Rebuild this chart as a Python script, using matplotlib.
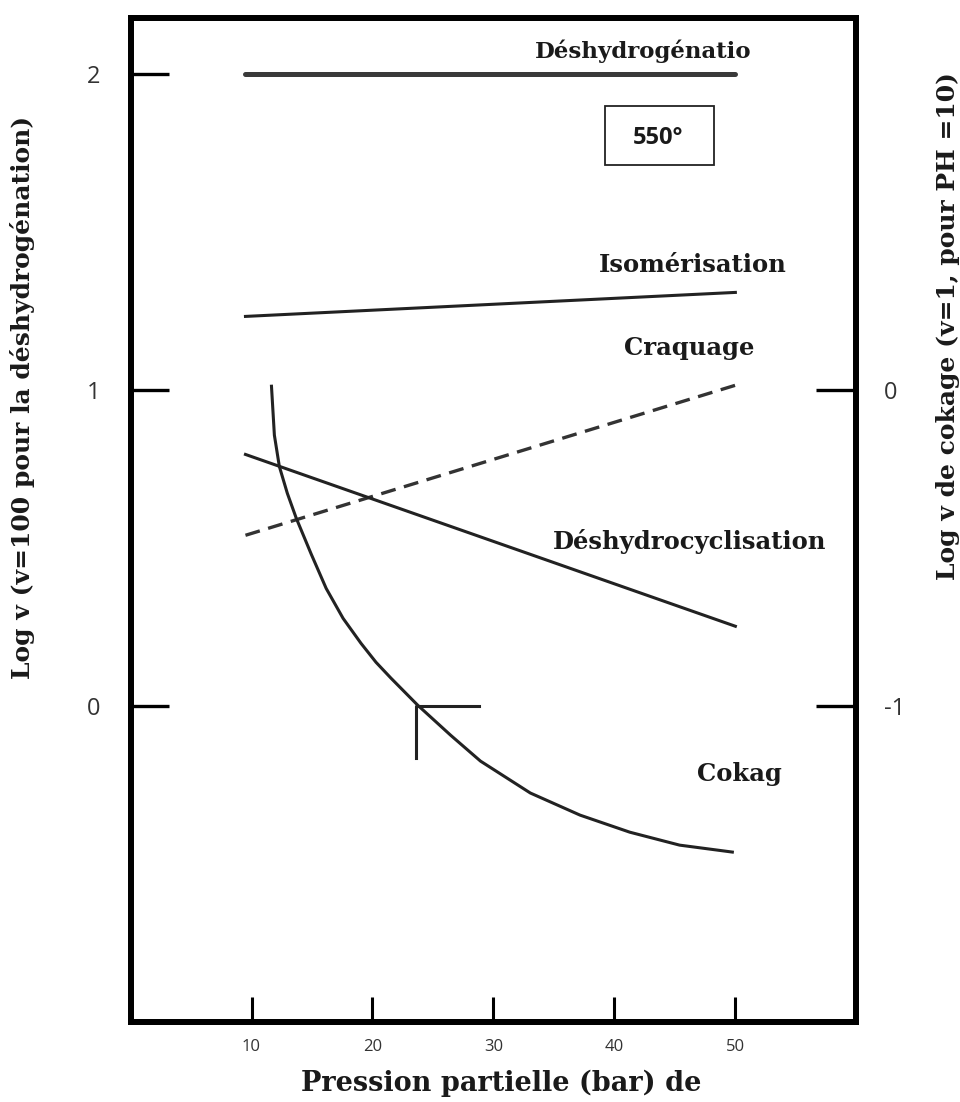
import matplotlib.pyplot as plt
from matplotlib.patches import Rectangle

# pression partielle (bar) aux extremites des droites
x_ends = [9.5, 50]
deshydrogenation = [2.0, 2.0]
isomerisation = [1.234, 1.31]
craquage = [0.541, 1.016]
deshydrocyclisation = [0.797, 0.253]

# courbe de cokage lue point par point
cokage_x = [11.65, 11.89, 12.30, 12.96, 13.70, 14.94, 16.17, 17.57, 19.05,
            20.29, 21.52, 23.74, 26.46, 28.93, 33.05, 37.16, 41.27, 45.39,
            49.75]
cokage_y = [1.013, 0.858, 0.759, 0.674, 0.595, 0.481, 0.373, 0.278, 0.199,
            0.139, 0.089, 0.003, -0.092, -0.174, -0.275, -0.345, -0.399,
            -0.44, -0.462]

# repere (coin) sur la courbe de cokage
repere_x = [23.6, 23.6, 28.8]
repere_y = [-0.165, 0.0, 0.0]

x_ticks = [10, 20, 30, 40, 50]
y_ticks = [0, 1, 2]
y2_ticks = [-1, 0]

serif = ['DejaVu Serif']
sans = ['Open Sans', 'DejaVu Sans']

fig = plt.figure(figsize=(9.6, 11.02), dpi=100)
ax = fig.add_axes([0.136, 0.0726, 0.756, 0.9114])

ax.plot(x_ends, deshydrogenation, color='#3a3a3a', lw=3.6, solid_capstyle='round')
ax.plot(x_ends, isomerisation, color='#222222', lw=2.2)
ax.plot(x_ends, craquage, color='#333333', lw=2.4, dashes=(4.5, 2.6))
ax.plot(x_ends, deshydrocyclisation, color='#222222', lw=2.2)
ax.plot(cokage_x, cokage_y, color='#222222', lw=2.2)
ax.plot(repere_x, repere_y, color='#222222', lw=2.2)

ax.set_xlim(0, 60)
ax.set_ylim(-1, 2.18)
ax.set_xticks(x_ticks)
ax.set_xticklabels([str(v) for v in x_ticks], fontfamily=sans, fontsize=12,
                   color='#333333')
ax.set_yticks(y_ticks)
ax.set_yticklabels([str(v) for v in y_ticks], fontfamily=sans, fontsize=17,
                   color='#333333')
ax.tick_params(axis='y', direction='in', length=27, width=2.4, pad=22)
ax.tick_params(axis='x', direction='in', length=18, width=2.2, pad=12)
for s in ax.spines.values():
    s.set_linewidth(4.2)

ax2 = ax.twinx()
ax2.set_ylim(-2, 1.18)
ax2.set_yticks(y2_ticks)
ax2.set_yticklabels([str(v) for v in y2_ticks], fontfamily=sans, fontsize=17,
                    color='#333333')
ax2.tick_params(axis='y', direction='in', length=29, width=2.4, pad=20)
for s in ax2.spines.values():
    s.set_linewidth(4.2)

lab = dict(fontfamily=serif, fontweight='bold', fontsize=17.5, color='#1a1a1a',
           ha='center', va='center')
ax.text(42.4, 2.073, 'Déshydrogénatio', **dict(lab, fontsize=16.5))
ax.text(46.5, 1.396, 'Isomérisation', **lab)
ax.text(46.2, 1.133, 'Craquage', **lab)
ax.text(46.2, 0.522, 'Déshydrocyclisation', **lab)
ax.text(50.3, -0.215, 'Cokag', **lab)

ax.add_patch(Rectangle((39.2, 1.712), 9.07, 0.187, fill=False,
                       ec='#222222', lw=1.3))
ax.text(43.6, 1.80, '550°', fontfamily=sans, fontweight='bold', fontsize=17,
        color='#1a1a1a', ha='center', va='center')

fig.text(0.023, 1 - 397 / 1102, 'Log v (v=100 pour la déshydrogénation)',
         rotation=90, ha='center', va='center', fontfamily=serif,
         fontweight='bold', fontsize=18, color='#1a1a1a')
fig.text(0.988, 1 - 326 / 1102, 'Log v de cokage (v=1, pour PH =10)',
         rotation=90, ha='center', va='center', fontfamily=serif,
         fontweight='bold', fontsize=18, color='#1a1a1a')
fig.text(0.522, 1 - 1083 / 1102, 'Pression partielle (bar) de',
         ha='center', va='center', fontfamily=serif, fontweight='bold',
         fontsize=19.5, color='#1a1a1a')

fig.savefig('out.png', dpi=100)
